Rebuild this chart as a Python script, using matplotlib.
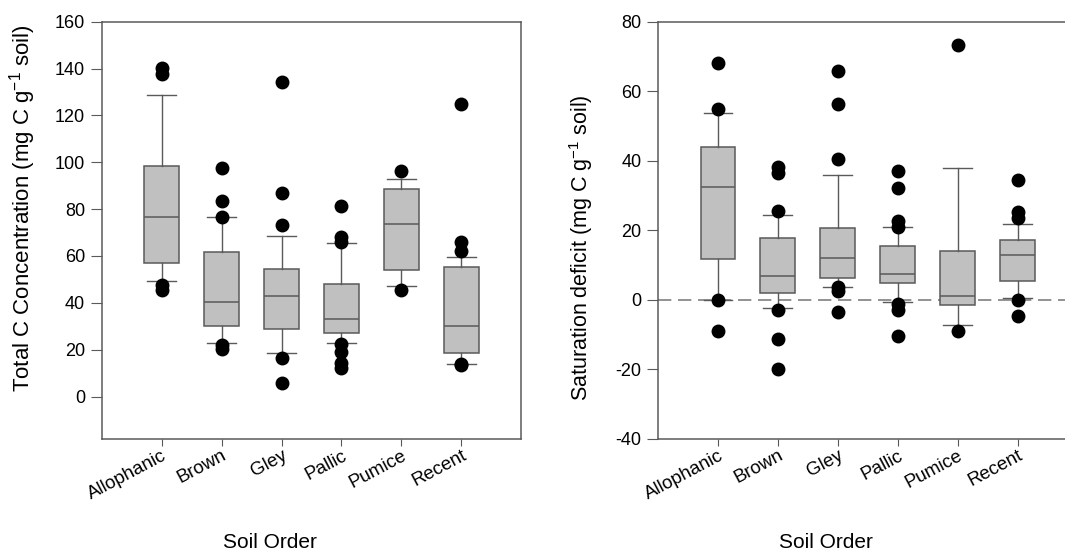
import matplotlib
matplotlib.use('Agg')
import matplotlib.pyplot as plt

plt.rcParams['font.family'] = ['Liberation Sans', 'DejaVu Sans']
plt.rcParams['mathtext.fontset'] = 'custom'
plt.rcParams['mathtext.rm'] = 'Liberation Sans'
plt.rcParams['mathtext.it'] = 'Liberation Sans:italic'
plt.rcParams['axes.unicode_minus'] = False

orders = ['Allophanic', 'Brown', 'Gley', 'Pallic', 'Pumice', 'Recent']

# total C: 10th, 25th, median, 75th, 90th percentiles and points beyond
tc_low = [49.5, 23.0, 18.5, 23.0, 47.2, 13.9]
tc_q1 = [57.2, 29.9, 29.0, 27.3, 54.1, 18.5]
tc_med = [76.7, 40.5, 43.0, 33.1, 73.7, 30.2]
tc_q3 = [98.6, 61.7, 54.3, 48.2, 88.5, 55.2]
tc_high = [128.7, 76.7, 68.6, 65.7, 92.7, 59.7]
tc_out = [
    [140.2, 137.7, 47.8, 45.5],
    [97.7, 83.4, 76.7, 22.0, 20.5],
    [134.4, 87.0, 73.1, 16.4, 5.7],
    [81.5, 68.3, 65.9, 22.5, 19.2, 14.5, 12.1],
    [96.3, 45.5],
    [124.8, 66.1, 62.3, 13.9, 13.3],
]

# saturation deficit
sd_low = [0.0, -2.3, 3.6, -0.8, -7.2, 0.6]
sd_q1 = [11.8, 2.0, 6.3, 4.8, -1.4, 5.4]
sd_med = [32.4, 6.7, 11.9, 7.5, 1.2, 13.0]
sd_q3 = [44.0, 17.7, 20.6, 15.6, 14.0, 17.3]
sd_high = [53.8, 24.5, 36.0, 20.8, 37.9, 21.9]
sd_out = [
    [68.0, 55.0, -0.2, -9.0],
    [38.2, 36.5, 25.4, -2.9, -11.2, -20.0],
    [65.8, 56.3, 40.4, 3.8, 2.5, -3.5],
    [37.0, 32.1, 22.6, 20.8, -1.3, -2.9, -10.4],
    [73.4, -9.0],
    [34.5, 25.1, 23.6, 0.0, -4.8],
]

edge = '#5a5a5a'


def stats(low, q1, med, q3, high, out):
    return [dict(whislo=a, q1=b, med=c, q3=d, whishi=e, fliers=f)
            for a, b, c, d, e, f in zip(low, q1, med, q3, high, out)]


def draw(ax, st, ylim, yticks, ylabel, lab_size):
    pos = range(1, len(orders) + 1)
    ax.bxp(st, positions=pos, widths=0.58, capwidths=0.48, patch_artist=True,
           boxprops=dict(facecolor='#c0c0c0', edgecolor=edge, linewidth=1.1),
           medianprops=dict(color=edge, linewidth=1.1),
           whiskerprops=dict(color=edge, linewidth=1.0),
           capprops=dict(color=edge, linewidth=1.0),
           flierprops=dict(marker='o', markerfacecolor='black', markeredgecolor='black',
                           markersize=9, linestyle='none'))
    ax.set_xlim(0, 7)
    ax.set_ylim(*ylim)
    ax.set_yticks(yticks)
    ax.set_xticks(list(pos))
    ax.set_xticklabels(orders, rotation=28, ha='right', rotation_mode='anchor')
    for s in ax.spines.values():
        s.set_color(edge)
        s.set_linewidth(1.1)
    ax.tick_params(axis='y', direction='out', length=8, color=edge, labelsize=13, pad=4)
    ax.tick_params(axis='x', direction='out', length=5, color=edge, labelsize=13.5, pad=1)
    ax.set_ylabel(ylabel, fontsize=lab_size)
    ax.set_xlabel('Soil Order', fontsize=15)
    ax.xaxis.set_label_coords(0.40, -0.225)


fig = plt.figure(figsize=(10.65, 5.54), dpi=100)
ax1 = fig.add_axes([0.0955, 0.2081, 0.394, 0.7527])
ax2 = fig.add_axes([0.6178, 0.2081, 0.394, 0.7527])

draw(ax1, stats(tc_low, tc_q1, tc_med, tc_q3, tc_high, tc_out), (-18, 160),
     range(0, 161, 20), 'Total C Concentration (mg C g$^{-1}$ soil)', 16)
ax1.yaxis.set_label_coords(-0.152, 0.554)

ax2.axhline(0, color='#808080', linestyle=(0, (8, 4)), linewidth=1.2, zorder=0)
draw(ax2, stats(sd_low, sd_q1, sd_med, sd_q3, sd_high, sd_out), (-40, 80),
     range(-40, 81, 20), 'Saturation deficit (mg C g$^{-1}$ soil)', 15.5)
ax2.yaxis.set_label_coords(-0.15, 0.458)

fig.savefig('out.png', dpi=100)
